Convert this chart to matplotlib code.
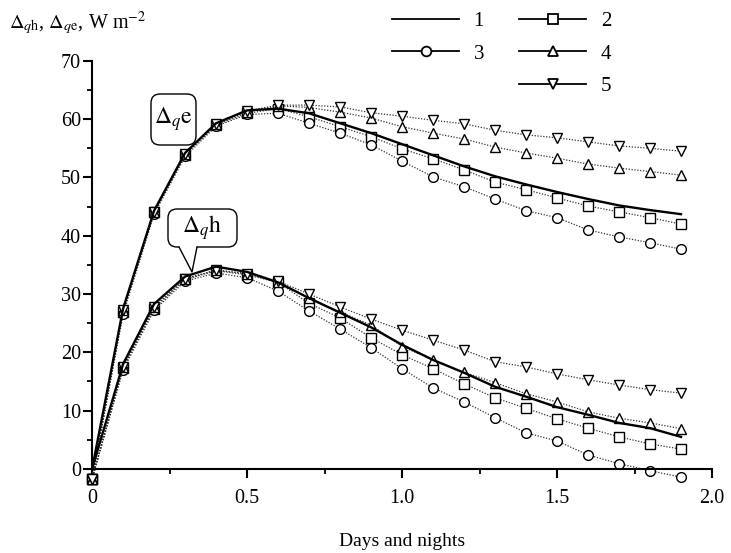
import matplotlib
matplotlib.use('Agg')
import matplotlib.pyplot as plt
from matplotlib.lines import Line2D
from matplotlib.patches import FancyBboxPatch, Polygon
from matplotlib.transforms import IdentityTransform

plt.rcParams['font.family'] = ['Liberation Serif', 'DejaVu Serif']
plt.rcParams['mathtext.fontset'] = 'stix'

# время, сутки
t = [0.0, 0.1, 0.2, 0.3, 0.4, 0.5, 0.6, 0.7, 0.8, 0.9,
     1.0, 1.1, 1.2, 1.3, 1.4, 1.5, 1.6, 1.7, 1.8, 1.9]

# верхние кривые (Δqe)
qe_1 = [0.0, 27.5, 44.3, 54.2, 59.3, 61.5, 61.8, 61.0, 59.3, 57.6,
        55.7, 53.8, 51.9, 50.2, 48.8, 47.5, 46.3, 45.2, 44.4, 43.7]
qe_2 = [-1.7, 27.0, 44.0, 53.9, 59.0, 61.0, 61.8, 60.4, 58.7, 57.0,
        54.9, 53.2, 51.3, 49.2, 47.9, 46.5, 45.1, 44.1, 43.1, 42.0]
qe_3 = [-1.7, 26.5, 43.7, 53.6, 58.8, 60.8, 61.0, 59.3, 57.6, 55.6,
        52.8, 50.1, 48.4, 46.3, 44.3, 43.1, 41.0, 39.8, 38.8, 37.7]
qe_4 = [-1.7, 27.2, 44.1, 54.0, 59.1, 61.3, 62.3, 62.0, 61.2, 60.2,
        58.7, 57.6, 56.6, 55.2, 54.2, 53.3, 52.3, 51.6, 51.0, 50.4]
qe_5 = [-1.7, 27.2, 44.1, 54.0, 59.1, 61.4, 62.4, 62.4, 62.1, 61.1,
        60.5, 59.8, 59.2, 58.1, 57.3, 56.8, 56.1, 55.4, 55.0, 54.5]

# нижние кривые (Δqh)
qh_1 = [0.0, 18.0, 28.3, 33.0, 34.7, 33.8, 32.0, 29.3, 26.8, 24.3,
        21.3, 18.7, 16.5, 14.1, 12.4, 10.6, 9.3, 7.9, 7.0, 5.5]
qh_2 = [-1.7, 17.3, 27.5, 32.5, 34.0, 33.3, 32.0, 28.4, 25.9, 22.5,
        19.6, 17.2, 14.6, 12.2, 10.4, 8.6, 7.0, 5.5, 4.3, 3.4]
qh_3 = [-1.7, 17.0, 27.2, 32.2, 33.6, 32.8, 30.5, 27.1, 24.0, 20.8,
        17.2, 13.9, 11.5, 8.8, 6.2, 4.8, 2.4, 0.9, -0.3, -1.4]
qh_4 = [-1.7, 17.5, 27.8, 32.6, 34.1, 33.5, 32.0, 29.3, 26.9, 24.7,
        21.0, 18.7, 16.6, 14.8, 12.9, 11.5, 9.8, 8.7, 7.9, 6.9]
qh_5 = [-1.7, 17.5, 27.8, 32.6, 34.1, 33.5, 32.2, 30.0, 27.8, 25.7,
        23.8, 22.1, 20.4, 18.4, 17.5, 16.3, 15.3, 14.4, 13.6, 13.0]

labels = ['1', '2', '3', '4', '5']
markers = [None, 's', 'o', '^', 'v']

fig = plt.figure(figsize=(7.31, 5.53), dpi=100)
ax = fig.add_axes([0.126, 0.152, 0.848, 0.738])

dot = dict(color='#333333', lw=0.9, linestyle=(0, (1, 1.3)), markersize=7,
           markerfacecolor='white', markeredgecolor='black', markeredgewidth=1.0,
           clip_on=False)

for i, (a, b) in enumerate([(qe_2, qh_2), (qe_3, qh_3), (qe_4, qh_4), (qe_5, qh_5)]):
    ax.plot(t, a, marker=markers[i + 1], **dot)
    ax.plot(t, b, marker=markers[i + 1], **dot)

ax.plot(t, qe_1, color='black', lw=1.7, clip_on=False, zorder=3)
ax.plot(t, qh_1, color='black', lw=1.7, clip_on=False, zorder=3)

ax.set_xlim(0, 2.0)
ax.set_ylim(0, 70)
ax.set_xticks([0, 0.5, 1.0, 1.5, 2.0])
ax.set_xticklabels(['0', '0.5', '1.0', '1.5', '2.0'])
ax.set_xticks([0.25, 0.75, 1.25, 1.75], minor=True)
ax.set_yticks(range(0, 71, 10))
ax.set_yticks(range(5, 70, 10), minor=True)
ax.tick_params(which='major', length=6.5, width=1.5, labelsize=14.5)
ax.tick_params(axis='x', which='major', pad=8)
ax.tick_params(axis='y', which='major', pad=1.5)
ax.tick_params(which='minor', length=3.5, width=1.3)
for s in ['top', 'right']:
    ax.spines[s].set_visible(False)
for s in ['left', 'bottom']:
    ax.spines[s].set_linewidth(1.5)

ax.set_xlabel('Days and nights', fontsize=14, labelpad=18)
fig.text(0.012, 0.958, r'$\Delta_{q\mathrm{h}}$, $\Delta_{q\mathrm{e}}$, W m$^{-2}$',
         fontsize=14.5, ha='left', va='center')

# выноски (в пикселях рисунка, отсчёт снизу)
H = 553
ident = IdentityTransform()
box_e = FancyBboxPatch((151, H - 145), 45, 51, boxstyle='round,pad=0,rounding_size=9',
                       transform=ident, fc='white', ec='black', lw=1.0, zorder=5)
box_h = FancyBboxPatch((168, H - 247), 69, 38, boxstyle='round,pad=0,rounding_size=9',
                       transform=ident, fc='white', ec='black', lw=1.0, zorder=5)
fig.patches.extend([box_e, box_h])
tail_fill = Polygon([(179, H - 246), (192, H - 272), (197, H - 246)], closed=True,
                    transform=ident, fc='white', ec='none', zorder=6)
fig.patches.append(tail_fill)
fig.lines.append(Line2D([179, 192, 197], [H - 247, H - 272, H - 247], color='black',
                        lw=1.0, transform=ident, zorder=7))
fig.text(173.5 / 731, 1 - 119 / 553, r'$\Delta_{q}\mathrm{e}$', fontsize=17,
         ha='center', va='center', zorder=8)
fig.text(202.5 / 731, 1 - 228 / 553, r'$\Delta_{q}\mathrm{h}$', fontsize=17,
         ha='center', va='center', zorder=8)

# легенда
handles = []
for lab, m in zip(labels, markers):
    handles.append(Line2D([], [], color='black', lw=1.3, marker=m, markersize=7,
                          markerfacecolor='white', markeredgecolor='black', markeredgewidth=1.3))
blank = Line2D([], [], color='none')
order = [handles[0], handles[2], blank, handles[1], handles[3], handles[4]]
order_lab = ['1', '3', '', '2', '4', '5']
fig.legend(order, order_lab, ncol=2, loc='upper left', bbox_to_anchor=(0.511, 1.013),
           frameon=False, fontsize=15, handlelength=3.2, columnspacing=1.7,
           labelspacing=0.62, handletextpad=0.7)

plt.savefig('out.png', dpi=100)
